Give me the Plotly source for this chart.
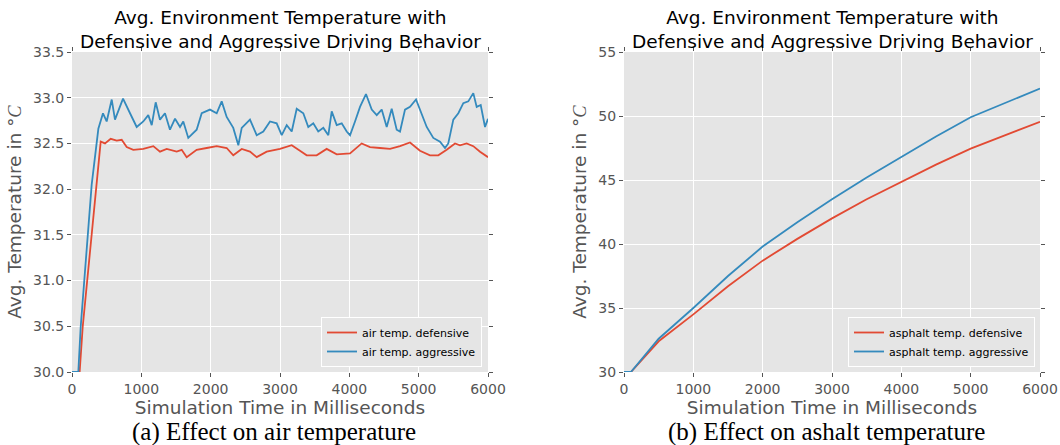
import plotly.graph_objects as go

# ---------------- data ----------------
air_def_t = [0, 110, 154, 346, 414, 476, 558, 645, 717, 789, 884, 1028, 1173, 1269, 1366, 1510,
             1582, 1654, 1798, 1943, 2087, 2231, 2326, 2448, 2567, 2664, 2808, 3000, 3169, 3288,
             3385, 3529, 3673, 3818, 4010, 4178, 4298, 4442, 4587, 4731, 4875, 5019, 5163, 5283,
             5404, 5524, 5596, 5692, 5788, 5885, 6000]
air_def_v = [30.0, 30.0, 30.49, 32.0, 32.52, 32.50, 32.55, 32.53, 32.54, 32.46, 32.43, 32.44, 32.47,
             32.41, 32.44, 32.41, 32.43, 32.35, 32.43, 32.45, 32.47, 32.45, 32.37, 32.44, 32.41,
             32.35, 32.41, 32.44, 32.48, 32.42, 32.37, 32.37, 32.44, 32.38, 32.39, 32.50, 32.46,
             32.45, 32.44, 32.47, 32.51, 32.42, 32.37, 32.37, 32.43, 32.50, 32.48, 32.50, 32.47,
             32.41, 32.35]

air_agg_t = [0, 91, 125, 284, 380, 447, 500, 573, 620, 736, 837, 933, 1028, 1100, 1150, 1207, 1269,
             1341, 1413, 1486, 1558, 1605, 1677, 1798, 1871, 1990, 2087, 2159, 2231, 2326, 2399,
             2448, 2567, 2664, 2759, 2856, 2952, 3025, 3097, 3169, 3241, 3336, 3408, 3480, 3552,
             3625, 3697, 3746, 3818, 3890, 3962, 4010, 4082, 4154, 4240, 4323, 4395, 4467, 4539,
             4611, 4683, 4731, 4803, 4875, 4962, 5019, 5116, 5211, 5308, 5380, 5427, 5500, 5572,
             5644, 5716, 5788, 5837, 5895, 5957, 6000]
air_agg_v = [30.0, 30.0, 30.49, 32.05, 32.66, 32.83, 32.74, 32.98, 32.76, 32.99, 32.83, 32.68, 32.74,
             32.81, 32.70, 32.95, 32.76, 32.83, 32.65, 32.77, 32.68, 32.74, 32.56, 32.65, 32.83,
             32.87, 32.83, 32.96, 32.79, 32.67, 32.48, 32.67, 32.76, 32.59, 32.63, 32.74, 32.72,
             32.59, 32.70, 32.63, 32.88, 32.83, 32.68, 32.72, 32.63, 32.67, 32.59, 32.85, 32.70,
             32.72, 32.63, 32.59, 32.74, 32.90, 33.04, 32.87, 32.81, 32.87, 32.68, 32.88, 32.65,
             32.63, 32.87, 32.90, 32.98, 32.87, 32.68, 32.56, 32.52, 32.45, 32.50, 32.76, 32.83,
             32.94, 32.96, 33.05, 32.90, 32.92, 32.68, 32.77]

asph_t = [0, 100, 500, 1000, 1500, 2000, 2500, 3000, 3500, 4000, 4500, 5000, 5500, 6000]
asph_def_v = [30.0, 30.0, 32.4, 34.5, 36.7, 38.7, 40.4, 42.0, 43.5, 44.87, 46.2, 47.45, 48.5, 49.55]
asph_agg_v = [30.0, 30.0, 32.6, 35.0, 37.5, 39.8, 41.7, 43.5, 45.2, 46.8, 48.4, 49.9, 51.0, 52.15]

title_text = "Avg. Environment Temperature with<br>Defensive and Aggressive Driving Behavior"
xlabel = "Simulation Time in Milliseconds"
ylabel = "Avg. Temperature in °<span style='font-family:Liberation Serif'><i>C</i></span>"
captions = ["(a) Effect on air temperature", "(b) Effect on ashalt temperature"]
names_air = ["air temp. defensive", "air temp. aggressive"]
names_asph = ["asphalt temp. defensive", "asphalt temp. aggressive"]

RED = "#E24A33"
BLUE = "#348ABD"
W, H = 1060, 445

fig = go.Figure()
fig.add_trace(go.Scatter(x=air_def_t, y=air_def_v, mode="lines", name=names_air[0],
                         line=dict(color=RED, width=1.8), xaxis="x", yaxis="y", legend="legend"))
fig.add_trace(go.Scatter(x=air_agg_t, y=air_agg_v, mode="lines", name=names_air[1],
                         line=dict(color=BLUE, width=1.8), xaxis="x", yaxis="y", legend="legend"))
fig.add_trace(go.Scatter(x=asph_t, y=asph_def_v, mode="lines", name=names_asph[0],
                         line=dict(color=RED, width=1.8), xaxis="x2", yaxis="y2", legend="legend2"))
fig.add_trace(go.Scatter(x=asph_t, y=asph_agg_v, mode="lines", name=names_asph[1],
                         line=dict(color=BLUE, width=1.8), xaxis="x2", yaxis="y2", legend="legend2"))

px = lambda v: v / W
py = lambda v: 1 - v / H

tickfont = dict(family="DejaVu Sans", size=14, color="#555555")
titlefont = dict(family="DejaVu Sans", size=18.5, color="#555555")

common_ax = dict(showgrid=True, gridcolor="white", gridwidth=1, zeroline=False, showline=False,
                 ticks="outside", ticklen=4, tickcolor="#555555", mirror="ticks",
                 tickfont=tickfont, automargin=False)

fig.update_layout(
    width=W, height=H, margin=dict(l=0, r=0, t=0, b=0, autoexpand=False),
    paper_bgcolor="white", plot_bgcolor="#E5E5E5",
    xaxis=dict(domain=[px(72), px(488)], range=[0, 6000], tickvals=[0, 1000, 2000, 3000, 4000, 5000, 6000],
               anchor="y", title=dict(text=xlabel, font=titlefont, standoff=2), **common_ax),
    yaxis=dict(domain=[py(372), py(52)], range=[30, 33.5], tickvals=[30, 30.5, 31, 31.5, 32, 32.5, 33, 33.5],
               ticktext=["30.0", "30.5", "31.0", "31.5", "32.0", "32.5", "33.0", "33.5"],
               anchor="x", title=dict(text=ylabel, font=titlefont, standoff=6), **common_ax),
    xaxis2=dict(domain=[px(624), px(1040)], range=[0, 6000], tickvals=[0, 1000, 2000, 3000, 4000, 5000, 6000],
                anchor="y2", title=dict(text=xlabel, font=titlefont, standoff=2), **common_ax),
    yaxis2=dict(domain=[py(372), py(52)], range=[30, 55], tickvals=[30, 35, 40, 45, 50, 55],
                anchor="x2", title=dict(text=ylabel, font=titlefont, standoff=6), **common_ax),
    legend=dict(x=px(482), y=py(367), xanchor="right", yanchor="bottom",
                bgcolor="#E5E5E5", bordercolor="white", borderwidth=1,
                font=dict(family="DejaVu Sans", size=11, color="black"),
                tracegroupgap=0, itemwidth=30),
    legend2=dict(x=px(1035), y=py(367), xanchor="right", yanchor="bottom",
                 bgcolor="#E5E5E5", bordercolor="white", borderwidth=1,
                 font=dict(family="DejaVu Sans", size=11, color="black"),
                 tracegroupgap=0, itemwidth=30),
    showlegend=True,
)

annots = []
for cx in (280, 832):
    annots.append(dict(text=title_text, x=px(cx), y=py(29.5), xref="paper", yref="paper",
                       xanchor="center", yanchor="middle", showarrow=False, align="center",
                       font=dict(family="DejaVu Sans", size=18.5, color="black")))
for cap, cap_x in zip(captions, (274, 826)):
    annots.append(dict(text=cap, x=px(cap_x), y=py(432), xref="paper", yref="paper",
                       xanchor="center", yanchor="middle", showarrow=False,
                       font=dict(family="Liberation Serif", size=25, color="black")))
fig.update_layout(annotations=annots)

fig.write_html("out.html")
